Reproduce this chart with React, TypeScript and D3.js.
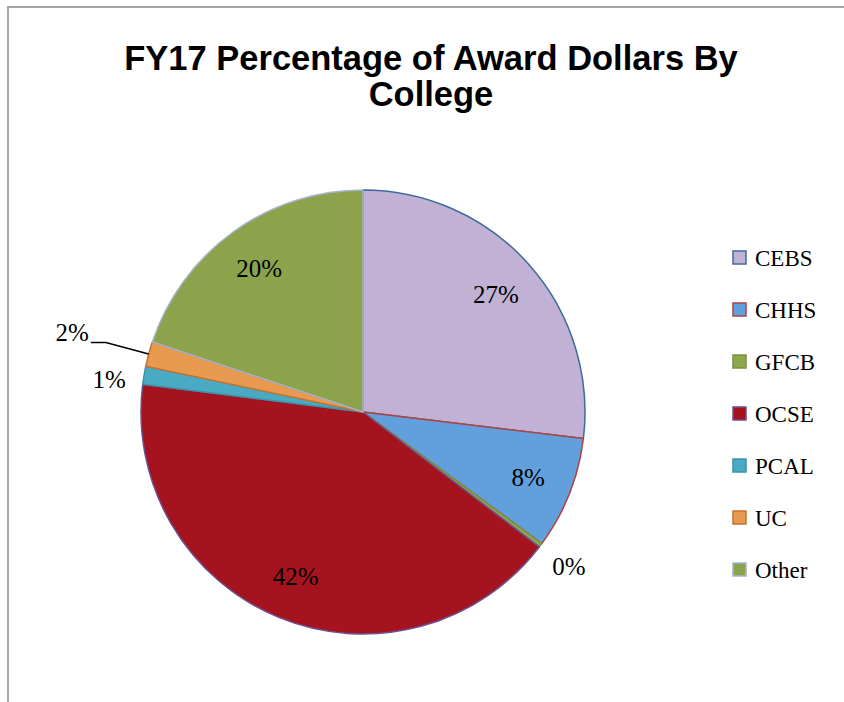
import React from 'react'
import * as d3 from 'd3'

const colleges = ['CEBS', 'CHHS', 'GFCB', 'OCSE', 'PCAL', 'UC', 'Other']
const shares = [26.9, 8.2, 0.3, 41.6, 1.3, 1.8, 19.9]
const fills = ['#c0b1d5', '#62a0dd', '#8fa84f', '#a5131f', '#4aaac4', '#e89a50', '#8da34b']
const edges = ['#3f6b9c', '#b0433e', '#7a9140', '#6c5190', '#3a93a9', '#c27430', '#a6b3d2']

const width = 844
const height = 702
const cx = 363
const cy = 412
const r = 222

export default function App() {
  const pie = d3.pie<number>().sort(null).value(d => d)
  const arcs = pie(shares)
  const arc = d3.arc<d3.PieArcDatum<number>>().innerRadius(0).outerRadius(r)
  const labelArc = d3.arc<d3.PieArcDatum<number>>().innerRadius(r * 0.8).outerRadius(r * 0.8)
  const outArc = d3.arc<d3.PieArcDatum<number>>().innerRadius(r * 1.16).outerRadius(r * 1.16)
  const fmt = (v: number) => d3.format('.0f')(v) + '%'

  const legendY = d3.scalePoint<string>().domain(colleges).range([258, 570])

  const polar = (a: number, rad: number) => [Math.sin(a) * rad, -Math.cos(a) * rad]
  const serif = 'Liberation Serif, serif'

  return (
    <svg width={width} height={height} style={{position: 'absolute', left: 0, top: 0, background: '#fff'}}>
      <path d={`M8,${height} V7 H${width}`} fill="none" stroke="#a6a6a6" strokeWidth={2} />
      <text x={431} y={70} textAnchor="middle" fontFamily="Liberation Sans, Arial, sans-serif" fontWeight="bold" fontSize={34.5}>
        FY17 Percentage of Award Dollars By
      </text>
      <text x={431} y={106} textAnchor="middle" fontFamily="Liberation Sans, Arial, sans-serif" fontWeight="bold" fontSize={34.5}>
        College
      </text>
      <g transform={`translate(${cx},${cy})`}>
        {arcs.map((a, i) => (
          <path key={colleges[i]} d={arc(a) || ''} fill={fills[i]} stroke={edges[i]} strokeWidth={1.5} strokeLinejoin="round" />
        ))}
        {arcs.map((a, i) => {
          const mid = (a.startAngle + a.endAngle) / 2
          const big = shares[i] >= 5
          if (big) {
            const [x, y] = labelArc.centroid(a)
            return (
              <text key={'l' + i} x={x} y={y} dy="0.35em" textAnchor="middle" fontFamily={serif} fontSize={25}>
                {fmt(shares[i])}
              </text>
            )
          }
          if (colleges[i] === 'UC') {
            const [x0, y0] = polar(mid, r)
            const [x1, y1] = polar(mid, r * 1.2)
            const x2 = x1 - 15
            return (
              <g key={'l' + i}>
                <path d={`M${x0},${y0} L${x1},${y1} H${x2}`} fill="none" stroke="#000" strokeWidth={1.5} />
                <text x={x2 - 2} y={y1} dy="-0.05em" textAnchor="end" fontFamily={serif} fontSize={25}>
                  {fmt(shares[i])}
                </text>
              </g>
            )
          }
          const [x, y] = outArc.centroid(a)
          const drop = colleges[i] === 'PCAL' ? 10 : 0
          return (
            <text key={'l' + i} x={x} y={y + drop} dy="0.35em" textAnchor="middle" fontFamily={serif} fontSize={25}>
              {fmt(shares[i])}
            </text>
          )
        })}
      </g>
      <g>
        {colleges.map((c, i) => (
          <g key={c} transform={`translate(733,${legendY(c)})`}>
            <rect x={0} y={-7} width={13} height={13} fill={fills[i]} stroke={edges[i]} strokeWidth={1.5} />
            <text x={22} y={0} dy="0.35em" fontFamily={serif} fontSize={23}>
              {c}
            </text>
          </g>
        ))}
      </g>
    </svg>
  )
}
